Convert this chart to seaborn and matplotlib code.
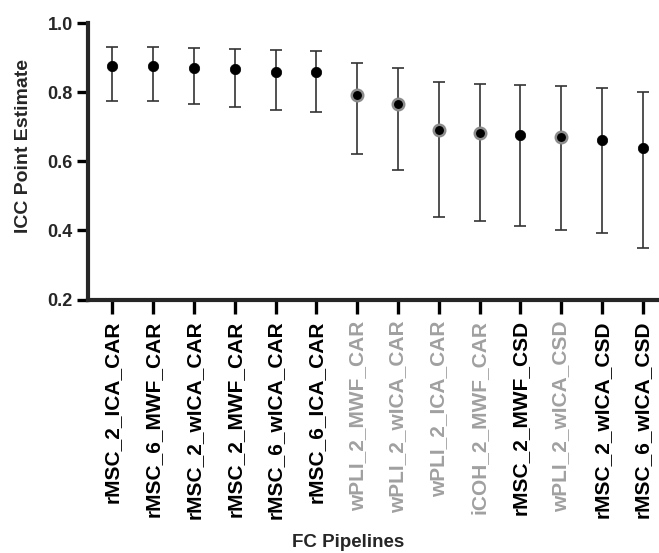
import matplotlib
matplotlib.use("Agg")
import matplotlib.pyplot as plt
import seaborn as sns
import pandas as pd

pipelines = ["rMSC_2_ICA_CAR", "rMSC_6_MWF_CAR", "rMSC_2_wICA_CAR", "rMSC_2_MWF_CAR",
             "rMSC_6_wICA_CAR", "rMSC_6_ICA_CAR", "wPLI_2_MWF_CAR", "wPLI_2_wICA_CAR",
             "wPLI_2_ICA_CAR", "iCOH_2_MWF_CAR", "rMSC_2_MWF_CSD", "wPLI_2_wICA_CSD",
             "rMSC_2_wICA_CSD", "rMSC_6_wICA_CSD"]
icc = [0.875, 0.875, 0.870, 0.867, 0.860, 0.858, 0.791, 0.765, 0.690, 0.683, 0.675, 0.670, 0.663, 0.640]
ci_lower = [0.775, 0.775, 0.765, 0.758, 0.748, 0.742, 0.621, 0.575, 0.440, 0.426, 0.412, 0.402, 0.392, 0.350]
ci_upper = [0.930, 0.930, 0.928, 0.925, 0.923, 0.921, 0.884, 0.870, 0.829, 0.823, 0.820, 0.817, 0.814, 0.802]
highlight = [False, False, False, False, False, False, True, True, True, True, False, True, False, False]

df = pd.DataFrame({"pipeline": pipelines, "icc": icc, "lo": ci_lower, "hi": ci_upper, "hl": highlight})

sns.set_style("ticks")
plt.rcParams["font.family"] = ["Liberation Sans", "DejaVu Sans"]
plt.rcParams["font.weight"] = "bold"

fig = plt.figure(figsize=(6.59, 5.53), dpi=100)
ax = fig.add_axes([0.1335, 0.4584, 0.8665, 0.4995])

ax.errorbar(df["pipeline"], df["icc"],
            yerr=[df["icc"] - df["lo"], df["hi"] - df["icc"]],
            fmt="none", ecolor="#333333", elinewidth=1.2, capsize=4, capthick=1.2, zorder=2)

plain = df[~df["hl"]]
grey = df[df["hl"]]
sns.scatterplot(data=plain, x="pipeline", y="icc", ax=ax, color="black", s=56,
                edgecolor="black", linewidth=0.5, zorder=3, legend=False)
sns.scatterplot(data=grey, x="pipeline", y="icc", ax=ax, color="black", s=68,
                edgecolor="#8c8c8c", linewidth=1.8, zorder=3, legend=False)

ax.set_ylim(0.2, 1.0)
ax.set_xlim(-0.6, 13.4)
ax.set_yticks([0.2, 0.4, 0.6, 0.8, 1.0])
ax.set_yticklabels(["0.2", "0.4", "0.6", "0.8", "1.0"], fontsize=13, fontweight="bold")
ax.set_xticks(range(len(pipelines)))
ax.set_xticklabels(pipelines, rotation=90, fontsize=15, fontweight="bold")
for lab, h in zip(ax.get_xticklabels(), highlight):
    lab.set_color("#a0a0a0" if h else "black")

ax.set_ylabel("ICC Point Estimate", fontsize=14, fontweight="bold")
ax.set_xlabel("FC Pipelines", fontsize=13.5, fontweight="bold")
ax.yaxis.set_label_coords(-0.098, 0.555)
ax.xaxis.set_label_coords(0.455, -0.85)

sns.despine(ax=ax)
for sp in ["left", "bottom"]:
    ax.spines[sp].set_linewidth(3)
ax.tick_params(axis="both", width=2.4, color="black")
ax.tick_params(axis="y", length=8, pad=3)
ax.tick_params(axis="x", length=10, pad=5)

fig.savefig("out.png", dpi=100)
